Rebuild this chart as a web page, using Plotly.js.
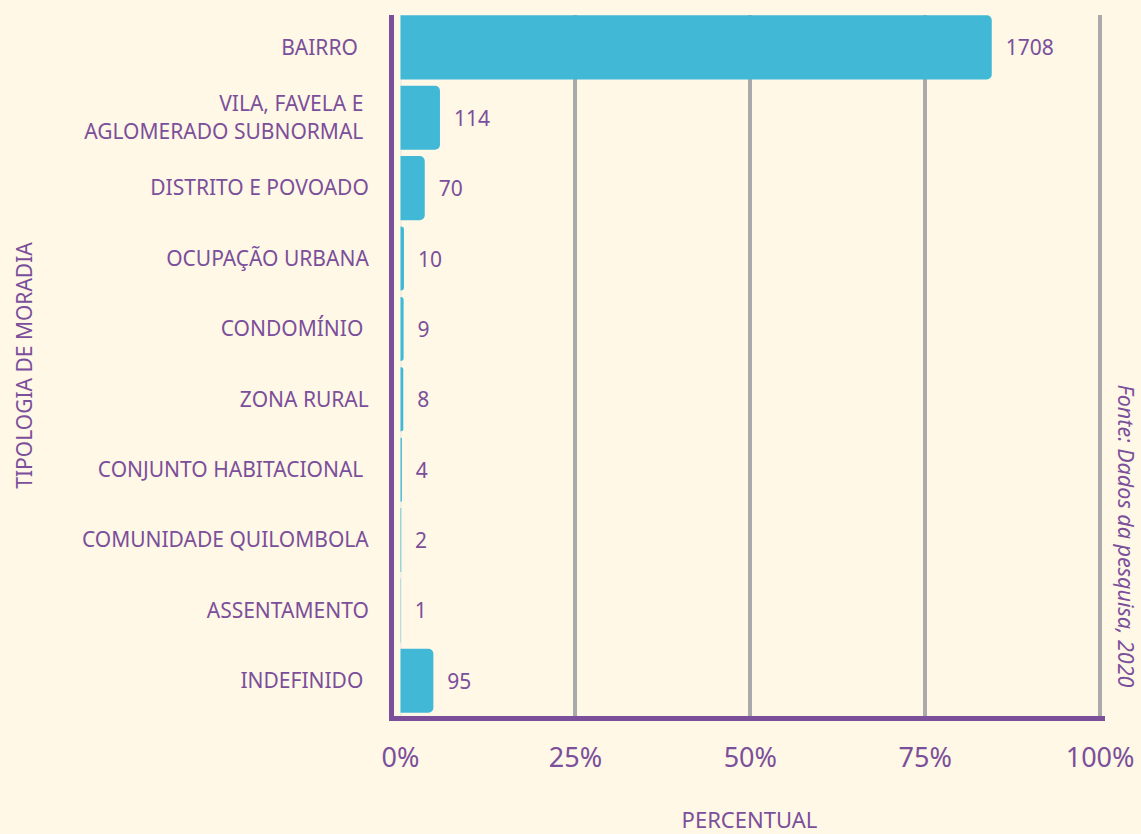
<!DOCTYPE html>
<html>
<head>
<meta charset="utf-8">
<script src="https://cdn.plot.ly/plotly-3.0.1.min.js"></script>
<style>html,body{margin:0;padding:0;background:#fff8e7;}#chart{width:1141px;height:834px;}</style>
</head>
<body>
<div id="chart"></div>
<script>
const categories = [
  "BAIRRO\u00a0\u00a0",
  "VILA, FAVELA E\u00a0<br>AGLOMERADO SUBNORMAL\u00a0",
  "DISTRITO E POVOADO",
  "OCUPAÇÃO URBANA",
  "CONDOMÍNIO\u00a0",
  "ZONA RURAL",
  "CONJUNTO HABITACIONAL\u00a0",
  "COMUNIDADE QUILOMBOLA",
  "ASSENTAMENTO",
  "INDEFINIDO\u00a0"
];
const counts = [1708, 114, 70, 10, 9, 8, 4, 2, 1, 95];
const tickVals = [0, 25, 50, 75, 100];
const tickText = ["0%", "25%", "50%", "75%", "100%"];
const sourceText = "Fonte: Dados da pesquisa, 2020";

const total = counts.reduce((a, b) => a + b, 0);
const percents = counts.map(c => c / total * 100);

const purple = "#7b4f9a";
const bg = "#fff8e7";

const trace = {
  type: "bar",
  orientation: "h",
  y: categories,
  x: percents,
  text: counts.map(c => "\u00a0\u00a0" + c),
  textposition: "outside",
  cliponaxis: false,
  textfont: {family: "Noto Sans", size: 21, color: purple},
  marker: {color: "#42b8d7", cornerradius: 5},
  width: 0.91,
  hoverinfo: "none"
};

const layout = {
  width: 1141,
  height: 834,
  paper_bgcolor: bg,
  plot_bgcolor: bg,
  margin: {l: 394, r: 36, t: 15, b: 118},
  showlegend: false,
  font: {family: "Noto Sans", color: purple},
  xaxis: {
    range: [-0.93, 100.7],
    tickvals: tickVals,
    ticktext: tickText,
    tickfont: {family: "Noto Sans", size: 27, color: purple},
    ticklabelstandoff: 14,
    ticks: "",
    showgrid: true,
    gridcolor: "#aaaaaa",
    gridwidth: 4,
    zeroline: true,
    zerolinecolor: "#f3efe2",
    zerolinewidth: 2,
    showline: true,
    linecolor: purple,
    linewidth: 5,
    fixedrange: true,
    title: {text: "PERCENTUAL", font: {family: "Noto Sans", size: 22, color: purple}, standoff: 43}
  },
  yaxis: {
    autorange: false,
    range: [9.5, -0.46],
    tickfont: {family: "Noto Sans", size: 21, color: purple},
    ticklabelstandoff: 16,
    ticks: "",
    showgrid: false,
    showline: true,
    linecolor: purple,
    linewidth: 5,
    fixedrange: true,
    title: {text: "TIPOLOGIA DE MORADIA", font: {family: "Noto Sans", size: 21, color: purple}, standoff: 45}
  },
  annotations: [{
    text: "<i>" + sourceText + "</i>",
    xref: "paper", yref: "paper",
    x: 1.03, y: 0.257,
    xanchor: "center", yanchor: "middle",
    textangle: 90,
    showarrow: false,
    font: {family: "Noto Sans", size: 21.5, color: purple}
  }]
};

Plotly.newPlot("chart", [trace], layout, {staticPlot: true, displayModeBar: false});
</script>
</body>
</html>
